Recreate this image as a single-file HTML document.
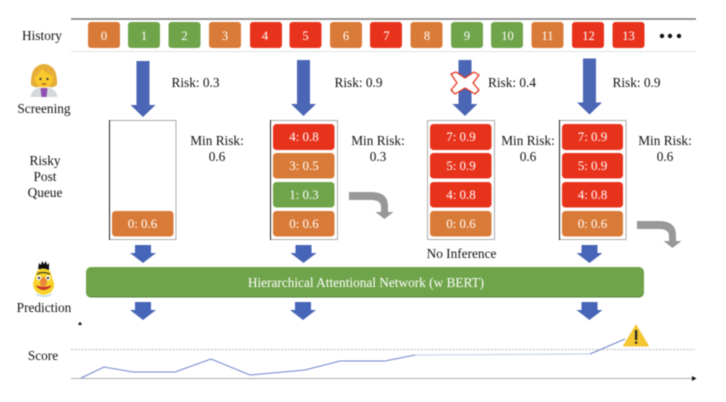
<!DOCTYPE html>
<html><head><meta charset="utf-8"><style>
html,body{margin:0;padding:0;background:#fff;width:726px;height:402px;overflow:hidden}
svg{display:block;filter:blur(.4px)}
text{font-family:"Liberation Serif",serif;font-size:13.3px;fill:#111;text-anchor:middle}
.w{fill:#fff;font-size:13px}
.h text{font-size:12.5px}
</style></head><body>
<svg width="726" height="402" viewBox="0 0 726 402" xmlns="http://www.w3.org/2000/svg">
<defs>
<g id="bigA"><path d="M-6.500 0H6.500V44H12.500L0 56L-12.500 44H-6.500Z" fill="#4a66b5"/></g>
<g id="smA"><path d="M-8 0H8V8H13L0 18L-13 8H-8Z" fill="#4765b8"/></g>
<g id="gA"><path d="M0 0H22Q39 0 39 14V20H44.500L35.500 27L26.500 20H32V15Q32 8 22 8H0Z" fill="#989898"/></g>
</defs>

<line x1="71" y1="19" x2="696" y2="19" stroke="#777" stroke-width="1.500"/>
<line x1="71" y1="51.500" x2="696" y2="51.500" stroke="#e2e2e2" stroke-width="1"/>

<g class="h">
<rect x="88" y="22" width="32" height="26" rx="3" fill="#d97b38"/><text class="w" x="104" y="40">0</text>
<rect x="128" y="22" width="32" height="26" rx="3" fill="#70a44b"/><text class="w" x="144" y="40">1</text>
<rect x="168.500" y="22" width="32" height="26" rx="3" fill="#70a44b"/><text class="w" x="184.500" y="40">2</text>
<rect x="209" y="22" width="32" height="26" rx="3" fill="#d97b38"/><text class="w" x="225" y="40">3</text>
<rect x="250" y="22" width="32" height="26" rx="3" fill="#e8331c"/><text class="w" x="265" y="40">4</text>
<rect x="289.500" y="22" width="32" height="26" rx="3" fill="#e8331c"/><text class="w" x="305.500" y="40">5</text>
<rect x="330" y="22" width="32" height="26" rx="3" fill="#d97b38"/><text class="w" x="346" y="40">6</text>
<rect x="370" y="22" width="32" height="26" rx="3" fill="#e8331c"/><text class="w" x="386.500" y="40">7</text>
<rect x="410.500" y="22" width="32" height="26" rx="3" fill="#d97b38"/><text class="w" x="427" y="40">8</text>
<rect x="451" y="22" width="32" height="26" rx="3" fill="#70a44b"/><text class="w" x="467" y="40">9</text>
<rect x="491" y="22" width="32" height="26" rx="3" fill="#70a44b"/><text class="w" x="507.500" y="40">10</text>
<rect x="531.500" y="22" width="32" height="26" rx="3" fill="#d97b38"/><text class="w" x="547.500" y="40">11</text>
<rect x="572" y="22" width="32" height="26" rx="3" fill="#e8331c"/><text class="w" x="588.500" y="40">12</text>
<rect x="612.500" y="22" width="32" height="26" rx="3" fill="#e8331c"/><text class="w" x="628.500" y="40">13</text>
</g>
<circle cx="662" cy="36" r="2.200" fill="#111"/><circle cx="670" cy="36" r="2.200" fill="#111"/><circle cx="679" cy="36" r="2.200" fill="#111"/>

<text x="42" y="40">History</text>
<text x="44" y="113">Screening</text>
<text x="45" y="165">Risky</text>
<text x="45" y="181">Post</text>
<text x="45" y="197">Queue</text>
<text x="44" y="312">Prediction</text>
<text x="43" y="360">Score</text>

<!-- doctor emoji -->
<g>
<path d="M30.500 97Q31.500 90 38 88H50Q56.500 90 57.500 97Z" fill="#d3d9dc"/>
<path d="M40.500 88H47.500L46.500 97H41.500Z" fill="#8e4fb0"/>
<path d="M31 85Q30 65 44 64Q58 65 57 85Q53 88 50 87H38Q35 88 31 85Z" fill="#e5ae38"/>
<ellipse cx="44" cy="78" rx="9" ry="9.500" fill="#f8c82c"/>
<path d="M34.500 77Q39 74 42 69Q47 74 53.500 76L52 68H36Z" fill="#e5ae38"/>
<circle cx="40.500" cy="79" r="1.100" fill="#333"/><circle cx="47.500" cy="79" r="1.100" fill="#333"/>
<path d="M41.500 84H46.500" stroke="#8a4a20" stroke-width="1"/>
</g>

<!-- bert emoji -->
<g>
<path d="M38 269L39 263L41 265L42 261L44 264L46 261L47 265L49 263L49 270Z" fill="#111"/>
<path d="M37 271Q43 266 50 271L54 283Q55 293 43.500 295Q33 293 33 283Z" fill="#f5d327"/>
<path d="M36 294Q44 298 51 294Q50 296 44 296.500Q38 296 36 294Z" fill="#cfe4ea" stroke="#b9d7e0" stroke-width="1"/>
<path d="M37 274Q43 271 50 274" stroke="#222" fill="none" stroke-width="1"/>
<circle cx="39" cy="278" r="2.500" fill="#fff"/><circle cx="48" cy="278" r="2.500" fill="#fff"/>
<circle cx="39" cy="278" r="1.100" fill="#222"/><circle cx="48" cy="278" r="1.100" fill="#222"/>
<path d="M36.500 286Q43.500 293 51 286Q44 289 36.500 286Z" fill="#c9302c" stroke="#c9302c"/>
<ellipse cx="43.500" cy="282" rx="3.500" ry="5" fill="#ea8a3a"/>
</g>

<!-- risk arrows -->
<use href="#bigA" x="143" y="61"/>
<use href="#bigA" x="303.500" y="60"/>
<use href="#bigA" x="465" y="60"/>
<use href="#bigA" x="589.500" y="58.500"/>
<text x="195.500" y="87">Risk: 0.3</text>
<text x="358.500" y="87">Risk: 0.9</text>
<text x="512" y="87">Risk: 0.4</text>
<text x="636.500" y="87">Risk: 0.9</text>

<!-- X mark -->
<path d="M451 74L456 72L465 78L474 72L479 75L473 83L479 90L475 94L465 88L455 94L451 90L457 83Z" fill="#fff" stroke="#e8331c" stroke-width="1.300" stroke-linejoin="round"/>

<!-- queues -->
<g fill="#fff" stroke="#aaa" stroke-width="1">
<rect x="109.500" y="120.500" width="66.500" height="119"/>
<rect x="270.500" y="120.500" width="67" height="119"/>
<rect x="427.500" y="120.500" width="67" height="119"/>
<rect x="559.500" y="120.500" width="66.500" height="119"/>
</g>
<g stroke="#222" stroke-width="1"><line x1="109.500" y1="120" x2="109.500" y2="240"/><line x1="270.500" y1="120" x2="270.500" y2="240"/><line x1="559.500" y1="120" x2="559.500" y2="240"/></g>

<g>
<rect x="112" y="211" width="61.500" height="25.500" rx="3.500" fill="#d97b38"/><text class="w" x="142.500" y="228">0: 0.6</text>

<rect x="273" y="124" width="61.500" height="26" rx="3.500" fill="#e8331c"/><text class="w" x="304" y="141">4: 0.8</text>
<rect x="273" y="153" width="61.500" height="25.500" rx="3.500" fill="#d97b38"/><text class="w" x="304" y="170">3: 0.5</text>
<rect x="273" y="182" width="61.500" height="25.500" rx="3.500" fill="#70a44b"/><text class="w" x="304" y="199">1: 0.3</text>
<rect x="273" y="211" width="61.500" height="25.500" rx="3.500" fill="#d97b38"/><text class="w" x="304" y="228">0: 0.6</text>

<rect x="430" y="124" width="61.500" height="26" rx="3.500" fill="#e8331c"/><text class="w" x="461" y="141">7: 0.9</text>
<rect x="430" y="153" width="61.500" height="25.500" rx="3.500" fill="#e8331c"/><text class="w" x="461" y="170">5: 0.9</text>
<rect x="430" y="182" width="61.500" height="25.500" rx="3.500" fill="#e8331c"/><text class="w" x="461" y="199">4: 0.8</text>
<rect x="430" y="211" width="61.500" height="25.500" rx="3.500" fill="#d97b38"/><text class="w" x="461" y="228">0: 0.6</text>

<rect x="562" y="124" width="61" height="26" rx="3.500" fill="#e8331c"/><text class="w" x="592.500" y="141">7: 0.9</text>
<rect x="562" y="153" width="61" height="25.500" rx="3.500" fill="#e8331c"/><text class="w" x="592.500" y="170">5: 0.9</text>
<rect x="562" y="182" width="61" height="25.500" rx="3.500" fill="#e8331c"/><text class="w" x="592.500" y="199">4: 0.8</text>
<rect x="562" y="211" width="61" height="25.500" rx="3.500" fill="#d97b38"/><text class="w" x="592.500" y="228">0: 0.6</text>
</g>

<text x="217" y="145">Min Risk:</text><text x="217" y="161">0.6</text>
<text x="378" y="145">Min Risk:</text><text x="378" y="161">0.3</text>
<text x="528" y="145">Min Risk:</text><text x="528" y="161">0.6</text>
<text x="665" y="145">Min Risk:</text><text x="665" y="161">0.6</text>
<text x="461.500" y="258">No Inference</text>

<!-- grey arrows -->
<use href="#gA" x="349" y="192"/>
<use href="#gA" x="637" y="221"/>

<!-- small arrows top -->
<use href="#smA" x="143" y="245"/>
<use href="#smA" x="303.500" y="245"/>
<use href="#smA" x="589.500" y="245"/>

<!-- HAN bar -->
<rect x="86" y="267.500" width="558" height="30" rx="5" fill="#568239"/>
<rect x="86" y="267" width="558" height="29.500" rx="5" fill="#70a44b"/>
<text class="w" style="font-size:13.3px" x="366" y="287">Hierarchical Attentional Network (w BERT)</text>

<!-- small arrows bottom -->
<use href="#smA" x="143" y="302"/>
<use href="#smA" x="303" y="302"/>
<use href="#smA" x="589.500" y="302"/>

<!-- score -->
<path d="M78 325L80 321.500L82 325Z" fill="#111"/>
<line x1="71" y1="349.500" x2="695" y2="349.500" stroke="#b5b5b5" stroke-width="1" stroke-dasharray="2 1.500"/>
<line x1="71" y1="378.500" x2="692" y2="378.500" stroke="#aaa" stroke-width="1"/>
<path d="M692 376L696.500 378.500L692 381Z" fill="#111"/>
<polyline points="81,378 104,367 133,372 175,372 211,359 250,375 305,370 340,361 385,361 415,355" fill="none" stroke="#6f86cc" stroke-width="1"/>
<polyline points="415,355 590,354" fill="none" stroke="#bccaea" stroke-width="1"/>
<polyline points="590,354 625,339" fill="none" stroke="#6f86cc" stroke-width="1"/>
<path d="M636 325L648.500 346H623.500Z" fill="#f3c632" stroke="#f3c632" stroke-linejoin="round" stroke-width="1"/>
<rect x="635" y="330" width="2.200" height="10" fill="#222"/><rect x="635" y="341.500" width="2.200" height="2.200" fill="#222"/>
</svg>
</body></html>
